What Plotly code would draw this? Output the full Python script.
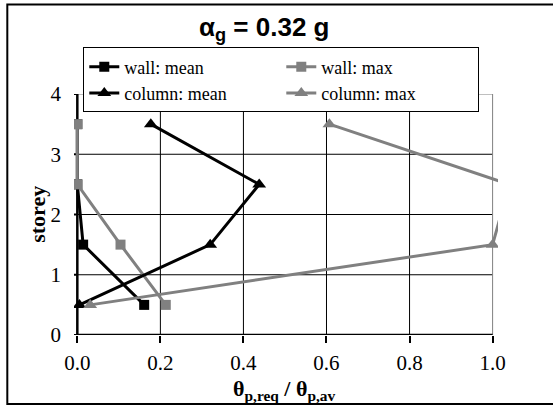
import plotly.graph_objects as go

# storey mid-heights and demand/capacity ratios per series
storey = [0.5, 1.5, 2.5, 3.5]
wall_mean = [0.161, 0.014, 0.0, 0.0]
wall_max = [0.213, 0.104, 0.0, 0.0]
column_mean = [0.005, 0.32, 0.438, 0.177]
column_max = [0.031, 1.0, 1.04, 0.607]

x_ticks = [0.0, 0.2, 0.4, 0.6, 0.8, 1.0]
x_tick_text = ["0.0", "0.2", "0.4", "0.6", "0.8", "1.0"]
y_ticks = [0, 1, 2, 3, 4]

BLACK = "#000000"
GRAY = "#808080"
SERIF = "Liberation Serif, Times New Roman, serif"
SANS = "Liberation Sans, Arial, sans-serif"

series = [
    ("wall: mean", wall_mean, BLACK, "square", 10),
    ("wall: max", wall_max, GRAY, "square", 10),
    ("column: mean", column_mean, BLACK, "triangle-up", 12),
    ("column: max", column_max, GRAY, "triangle-up", 12),
]

fig = go.Figure()
for name, xs, color, symbol, size in series:
    fig.add_trace(go.Scatter(
        x=xs, y=storey, name=name, mode="lines+markers",
        line=dict(color=color, width=3),
        marker=dict(symbol=symbol, size=size, color=color, line=dict(width=0)),
    ))

shapes = []
# inner grid
for v in [0.2, 0.4, 0.6, 0.8]:
    shapes.append(dict(type="line", xref="x", yref="y", x0=v, x1=v, y0=0, y1=4,
                       line=dict(color=BLACK, width=1), layer="below"))
for h in [1, 2, 3]:
    shapes.append(dict(type="line", xref="x", yref="y", x0=0, x1=1.0, y0=h, y1=h,
                       line=dict(color=BLACK, width=1), layer="below"))
# plot-area border (top/right) and axes (left/bottom)
shapes.append(dict(type="line", xref="x", yref="y", x0=0, x1=1.0, y0=4, y1=4,
                   line=dict(color=GRAY, width=1), layer="below"))
shapes.append(dict(type="line", xref="x", yref="y", x0=1.0, x1=1.0, y0=0, y1=4,
                   line=dict(color=GRAY, width=1), layer="below"))
shapes.append(dict(type="line", xref="x", yref="y", x0=0, x1=1.0, y0=0, y1=0,
                   line=dict(color=BLACK, width=2.5), layer="below"))
shapes.append(dict(type="line", xref="x", yref="y", x0=0, x1=0, y0=0, y1=4,
                   line=dict(color=BLACK, width=2.5), layer="below"))
# y-axis tick marks on the x = 0 axis line
for t in y_ticks:
    shapes.append(dict(type="line", xref="x", yref="y", xsizemode="pixel", xanchor=0,
                       x0=-7, x1=0, y0=t, y1=t,
                       line=dict(color=BLACK, width=2), layer="below"))
# chart frame
shapes.append(dict(type="rect", xref="paper", yref="paper",
                   x0=-0.1573, x1=1.147, y0=-0.2867, y1=1.371,
                   line=dict(color=BLACK, width=2), fillcolor="rgba(0,0,0,0)",
                   layer="below"))

annotations = [
    dict(text="<b>α<sub>g</sub> = 0.32 g</b>", xref="paper", yref="paper",
         x=0.4476, y=1.27, showarrow=False, xanchor="center", yanchor="middle",
         font=dict(family=SANS, size=26, color=BLACK)),
    dict(text="<b>storey</b>", xref="paper", yref="paper",
         x=-0.0866, y=0.5, showarrow=False, textangle=-90,
         xanchor="center", yanchor="middle",
         font=dict(family=SERIF, size=22, color=BLACK)),
    dict(text="<b>θ<sub>p,req</sub> / θ<sub>p,av</sub></b>", xref="paper", yref="paper",
         x=0.496, y=-0.228, showarrow=False, xanchor="center", yanchor="middle",
         font=dict(family=SERIF, size=22, color=BLACK)),
]

fig.update_layout(
    width=553, height=407,
    margin=dict(l=73.7, r=55.3, t=94, b=72),
    paper_bgcolor="white", plot_bgcolor="white",
    showlegend=True,
    legend=dict(
        orientation="h", x=0.0219, y=1.193, xanchor="left", yanchor="top",
        bgcolor="white", bordercolor=BLACK, borderwidth=1,
        font=dict(family=SERIF, size=18, color=BLACK),
        entrywidth=152, entrywidthmode="pixels",
        itemwidth=30,
    ),
    shapes=shapes,
    annotations=annotations,
    xaxis=dict(
        range=[-0.008, 1.013], tickvals=x_ticks, ticktext=x_tick_text,
        showgrid=False, zeroline=False, showline=False,
        ticks="outside", ticklen=7, tickwidth=2, tickcolor=BLACK,
        ticklabelstandoff=2,
        tickfont=dict(family=SERIF, size=21, color=BLACK),
    ),
    yaxis=dict(
        range=[0, 4], tickvals=y_ticks,
        showgrid=False, zeroline=False, showline=False,
        ticks="", ticklabelstandoff=12,
        tickfont=dict(family=SERIF, size=21, color=BLACK),
    ),
)

fig.write_html("out.html")
